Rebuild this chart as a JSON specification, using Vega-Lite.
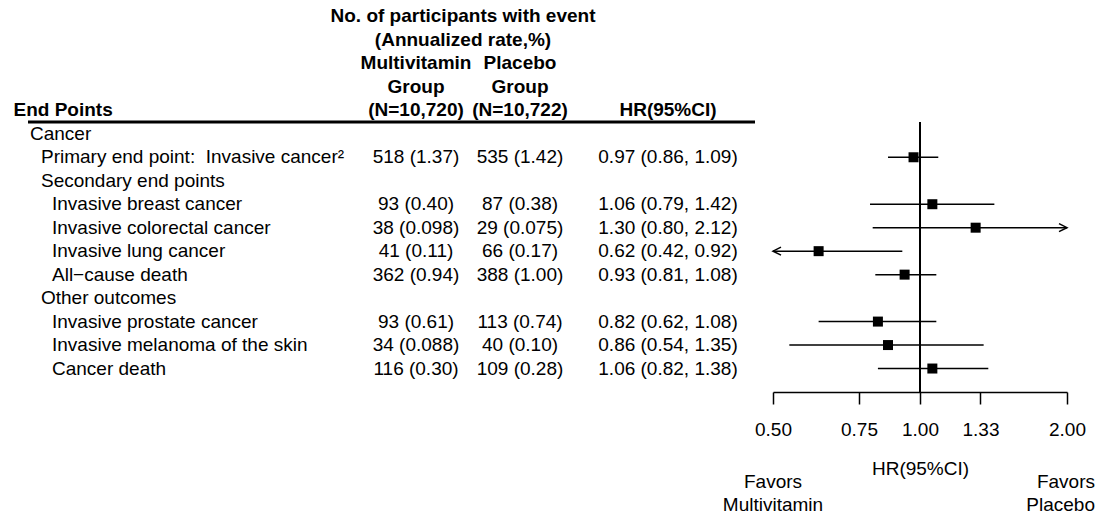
{
  "$schema": "https://vega.github.io/schema/vega-lite/v6.json",
  "width": 1106,
  "height": 392,
  "padding": 0,
  "autosize": {"type": "pad"},
  "background": "white",
  "config": {
    "view": {"stroke": null},
    "font": "Liberation Sans",
    "text": {"fontSize": 19, "color": "black"},
    "axis": {"grid": false}
  },
  "datasets": {
    "rows": [
      {"row": 0, "level": 0, "label": "Cancer"},
      {"row": 1, "level": 1, "label": "Primary end point: \u00a0Invasive cancer²"},
      {"row": 2, "level": 1, "label": "Secondary end points"},
      {"row": 3, "level": 2, "label": "Invasive breast cancer"},
      {"row": 4, "level": 2, "label": "Invasive colorectal cancer"},
      {"row": 5, "level": 2, "label": "Invasive lung cancer"},
      {"row": 6, "level": 2, "label": "All−cause death"},
      {"row": 7, "level": 1, "label": "Other outcomes"},
      {"row": 8, "level": 2, "label": "Invasive prostate cancer"},
      {"row": 9, "level": 2, "label": "Invasive melanoma of the skin"},
      {"row": 10, "level": 2, "label": "Cancer death"}
    ],
    "results": [
      {"row": 1, "mv": "518 (1.37)", "pl": "535 (1.42)", "ci": "0.97 (0.86, 1.09)", "hr": 0.97, "lo": 0.86, "hi": 1.09},
      {"row": 3, "mv": "93 (0.40)", "pl": "87 (0.38)", "ci": "1.06 (0.79, 1.42)", "hr": 1.06, "lo": 0.79, "hi": 1.42},
      {"row": 4, "mv": "38 (0.098)", "pl": "29 (0.075)", "ci": "1.30 (0.80, 2.12)", "hr": 1.30, "lo": 0.80, "hi": 2.12},
      {"row": 5, "mv": "41 (0.11)", "pl": "66 (0.17)", "ci": "0.62 (0.42, 0.92)", "hr": 0.62, "lo": 0.42, "hi": 0.92},
      {"row": 6, "mv": "362 (0.94)", "pl": "388 (1.00)", "ci": "0.93 (0.81, 1.08)", "hr": 0.93, "lo": 0.81, "hi": 1.08},
      {"row": 8, "mv": "93 (0.61)", "pl": "113 (0.74)", "ci": "0.82 (0.62, 1.08)", "hr": 0.82, "lo": 0.62, "hi": 1.08},
      {"row": 9, "mv": "34 (0.088)", "pl": "40 (0.10)", "ci": "0.86 (0.54, 1.35)", "hr": 0.86, "lo": 0.54, "hi": 1.35},
      {"row": 10, "mv": "116 (0.30)", "pl": "109 (0.28)", "ci": "1.06 (0.82, 1.38)", "hr": 1.06, "lo": 0.82, "hi": 1.38}
    ],
    "header": [
      {"row": -5, "col": 1.5, "text": "No. of participants with event"},
      {"row": -4, "col": 1.5, "text": "(Annualized rate,%)"},
      {"row": -3, "col": 1, "text": "Multivitamin"},
      {"row": -2, "col": 1, "text": "Group"},
      {"row": -1, "col": 1, "text": "(N=10,720)"},
      {"row": -3, "col": 2, "text": "Placebo"},
      {"row": -2, "col": 2, "text": "Group"},
      {"row": -1, "col": 2, "text": "(N=10,722)"},
      {"row": -1, "col": 3, "text": "HR(95%CI)"}
    ],
    "divider": [{"row": -0.5, "from": 0, "to": 4}],
    "reference": [{"hr": 1, "top": -0.5, "bottom": 11}],
    "favors": [
      {"hr": 0.5, "row": 14.44, "line1": "Favors", "line2": "Multivitamin"},
      {"hr": 2, "row": 14.44, "line1": "Favors", "line2": "Placebo"}
    ]
  },
  "encoding": {
    "y": {"field": "row", "type": "quantitative", "scale": {"domain": [-5.7, 11], "reverse": true, "nice": false, "zero": false}, "axis": null}
  },
  "layer": [
    {
      "data": {"name": "results"},
      "mark": {"type": "point", "shape": "square", "size": 100, "filled": true, "color": "black", "opacity": 1},
      "encoding": {
        "x": {
          "field": "hr", "type": "quantitative",
          "scale": {"type": "log", "domain": [0.5, 2], "range": [773, 1067], "clamp": true, "nice": false},
          "axis": {
            "title": "HR(95%CI)",
            "orient": "bottom",
            "values": [0.5, 0.75, 1, 1.33, 2],
            "format": ".2f",
            "domainColor": "black",
            "domainWidth": 1.5,
            "tickColor": "black",
            "tickWidth": 1.5,
            "tickSize": 12,
            "labelFontSize": 19,
            "labelColor": "black",
            "labelPadding": 16,
            "labelFlush": false,
            "labelOverlap": false,
            "titleFontSize": 19,
            "titleFontWeight": "normal",
            "titleColor": "black",
            "titleBaseline": "alphabetic",
            "titleY": 82
          }
        }
      }
    },
    {
      "layer": [
        {
          "data": {"name": "reference"},
          "mark": {"type": "rule", "strokeWidth": 2, "color": "black"},
          "encoding": {
            "x": {"field": "hr", "type": "quantitative", "scale": {"type": "log", "domain": [0.5, 2], "range": [773, 1067], "clamp": true, "nice": false}, "axis": null},
            "y": {"field": "top", "type": "quantitative"},
            "y2": {"field": "bottom"}
          }
        },
        {
          "data": {"name": "results"},
          "mark": {"type": "rule", "strokeWidth": 1.5, "color": "black"},
          "encoding": {
            "x": {"field": "lo", "type": "quantitative", "scale": {"type": "log", "domain": [0.5, 2], "range": [773, 1067], "clamp": true, "nice": false}, "axis": null},
            "x2": {"field": "hi"}
          }
        },
        {
          "data": {"name": "results"},
          "transform": [{"filter": "datum.hi > 2"}],
          "mark": {"type": "point", "shape": "M-2,-1L0,0L-2,1", "size": 64, "filled": false, "color": "black", "strokeWidth": 1.5, "opacity": 1},
          "encoding": {
            "x": {"field": "hi", "type": "quantitative", "scale": {"type": "log", "domain": [0.5, 2], "range": [773, 1067], "clamp": true, "nice": false}, "axis": null}
          }
        },
        {
          "data": {"name": "results"},
          "transform": [{"filter": "datum.lo < 0.5"}],
          "mark": {"type": "point", "shape": "M2,-1L0,0L2,1", "size": 64, "filled": false, "color": "black", "strokeWidth": 1.5, "opacity": 1},
          "encoding": {
            "x": {"field": "lo", "type": "quantitative", "scale": {"type": "log", "domain": [0.5, 2], "range": [773, 1067], "clamp": true, "nice": false}, "axis": null}
          }
        },
        {
          "data": {"name": "favors"},
          "transform": [{"filter": "datum.hr < 1"}],
          "mark": {"type": "text", "align": "center", "baseline": "top"},
          "encoding": {
            "x": {"field": "hr", "type": "quantitative", "scale": {"type": "log", "domain": [0.5, 2], "range": [773, 1067], "clamp": true, "nice": false}, "axis": null},
            "text": {"field": "line1"}
          }
        },
        {
          "data": {"name": "favors"},
          "transform": [{"filter": "datum.hr < 1"}],
          "mark": {"type": "text", "align": "center", "baseline": "top", "dy": 23},
          "encoding": {
            "x": {"field": "hr", "type": "quantitative", "scale": {"type": "log", "domain": [0.5, 2], "range": [773, 1067], "clamp": true, "nice": false}, "axis": null},
            "text": {"field": "line2"}
          }
        },
        {
          "data": {"name": "favors"},
          "transform": [{"filter": "datum.hr > 1"}],
          "mark": {"type": "text", "align": "right", "baseline": "top", "dx": 28},
          "encoding": {
            "x": {"field": "hr", "type": "quantitative", "scale": {"type": "log", "domain": [0.5, 2], "range": [773, 1067], "clamp": true, "nice": false}, "axis": null},
            "text": {"field": "line1"}
          }
        },
        {
          "data": {"name": "favors"},
          "transform": [{"filter": "datum.hr > 1"}],
          "mark": {"type": "text", "align": "right", "baseline": "top", "dx": 28, "dy": 23},
          "encoding": {
            "x": {"field": "hr", "type": "quantitative", "scale": {"type": "log", "domain": [0.5, 2], "range": [773, 1067], "clamp": true, "nice": false}, "axis": null},
            "text": {"field": "line2"}
          }
        }
      ]
    },
    {
      "layer": [
        {
          "data": {"name": "rows"},
          "mark": {"type": "text", "align": "left", "baseline": "middle"},
          "encoding": {
            "x": {"field": "level", "type": "quantitative", "scale": {"type": "linear", "domain": [0, 2], "range": [30, 52], "nice": false, "zero": false}, "axis": null},
            "text": {"field": "label"}
          }
        },
        {
          "data": {"values": [{"row": -1, "level": -1.5, "label": "End Points"}]},
          "mark": {"type": "text", "align": "left", "baseline": "middle", "fontWeight": "bold"},
          "encoding": {
            "x": {"field": "level", "type": "quantitative", "scale": {"type": "linear", "domain": [0, 2], "range": [30, 52], "nice": false, "zero": false}, "axis": null},
            "text": {"field": "label"}
          }
        }
      ]
    },
    {
      "layer": [
        {
          "data": {"name": "divider"},
          "mark": {"type": "rule", "strokeWidth": 3, "color": "black"},
          "encoding": {
            "x": {"field": "from", "type": "quantitative", "scale": {"type": "linear", "domain": [0, 1, 1.5, 2, 3, 4], "range": [28, 416, 463, 520, 668, 755], "nice": false, "zero": false}, "axis": null},
            "x2": {"field": "to"}
          }
        },
        {
          "data": {"name": "header"},
          "mark": {"type": "text", "align": "center", "baseline": "middle", "fontWeight": "bold"},
          "encoding": {
            "x": {"field": "col", "type": "quantitative", "scale": {"type": "linear", "domain": [0, 1, 1.5, 2, 3, 4], "range": [28, 416, 463, 520, 668, 755], "nice": false, "zero": false}, "axis": null},
            "text": {"field": "text"}
          }
        },
        {
          "data": {"name": "results"},
          "mark": {"type": "text", "align": "center", "baseline": "middle"},
          "encoding": {
            "x": {"datum": 1, "type": "quantitative", "scale": {"type": "linear", "domain": [0, 1, 1.5, 2, 3, 4], "range": [28, 416, 463, 520, 668, 755], "nice": false, "zero": false}, "axis": null},
            "text": {"field": "mv"}
          }
        },
        {
          "data": {"name": "results"},
          "mark": {"type": "text", "align": "center", "baseline": "middle"},
          "encoding": {
            "x": {"datum": 2, "type": "quantitative", "scale": {"type": "linear", "domain": [0, 1, 1.5, 2, 3, 4], "range": [28, 416, 463, 520, 668, 755], "nice": false, "zero": false}, "axis": null},
            "text": {"field": "pl"}
          }
        },
        {
          "data": {"name": "results"},
          "mark": {"type": "text", "align": "center", "baseline": "middle"},
          "encoding": {
            "x": {"datum": 3, "type": "quantitative", "scale": {"type": "linear", "domain": [0, 1, 1.5, 2, 3, 4], "range": [28, 416, 463, 520, 668, 755], "nice": false, "zero": false}, "axis": null},
            "text": {"field": "ci"}
          }
        }
      ]
    }
  ],
  "resolve": {"scale": {"x": "independent"}, "axis": {"x": "independent"}}
}
